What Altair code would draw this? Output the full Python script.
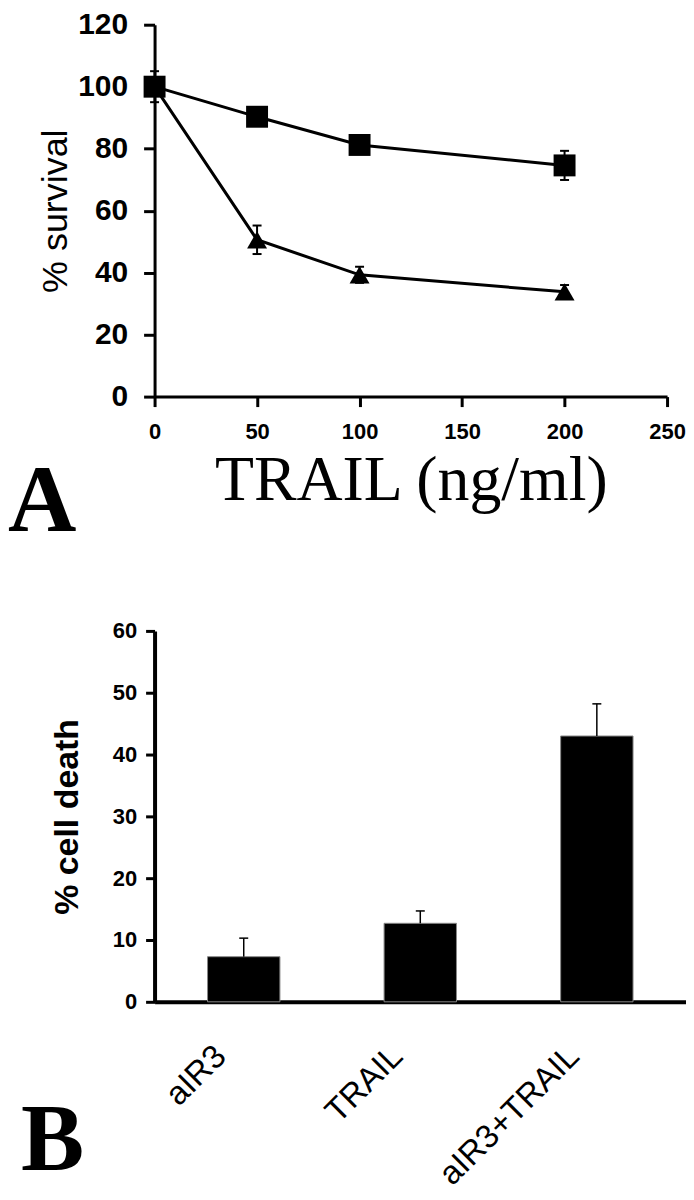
import altair as alt
import pandas as pd

# ---------------- data ----------------
trail_dose = [0, 50, 100, 200]
square_survival = [100.0, 90.3, 81.2, 74.6]
square_err = [2.0, 1.5, 1.5, 4.7]
triangle_survival = [100.0, 50.6, 39.3, 33.8]
triangle_err = [5.0, 4.6, 2.6, 2.2]

x_ticks_a = [0, 50, 100, 150, 200, 250]
y_ticks_a = [0, 20, 40, 60, 80, 100, 120]

groups_b = ["aIR3", "TRAIL", "aIR3+TRAIL"]
cell_death = [7.3, 12.7, 43.0]
cell_death_err = [3.0, 2.0, 5.2]
y_ticks_b = [0, 10, 20, 30, 40, 50, 60]

SANS = "Liberation Sans"
SERIF = "Liberation Serif"

# ---------------- panel A ----------------
dfA = pd.DataFrame({
    "dose": trail_dose * 2,
    "survival": square_survival + triangle_survival,
    "err": square_err + triangle_err,
    "series": ["square"] * 4 + ["triangle"] * 4,
})
dfA["lo"] = dfA["survival"] - dfA["err"]
dfA["hi"] = dfA["survival"] + dfA["err"]

xA = alt.X(
    "dose:Q",
    scale=alt.Scale(domain=[0, 250], nice=False, zero=False),
    axis=alt.Axis(
        values=x_ticks_a, title="TRAIL (ng/ml)", grid=False,
        labelFont=SANS, labelFontSize=22, labelFontWeight="bold", labelColor="black",
        labelPadding=15, labelFlush=False, labelOverlap=False,
        tickSize=10, tickWidth=3, tickColor="black",
        domainWidth=3, domainColor="black",
        titleFont=SERIF, titleFontSize=64, titleFontWeight="normal", titleColor="black",
        titlePadding=6,
    ),
)
yAxisA = alt.Axis(
    values=y_ticks_a, title="% survival", grid=False,
    labelFont=SANS, labelFontSize=30, labelFontWeight="bold", labelColor="black",
    labelPadding=16, labelOverlap=False,
    tickSize=11, tickWidth=3, tickColor="black",
    domainWidth=3, domainColor="black",
    titleFont=SANS, titleFontSize=36, titleFontWeight="normal", titleColor="black",
    titlePadding=3,
)
yScaleA = alt.Scale(domain=[0, 120], nice=False)

def yA(field):
    return alt.Y(f"{field}:Q", scale=yScaleA, axis=yAxisA)

baseA = alt.Chart(dfA)
linesA = baseA.mark_line(color="black", strokeWidth=3).encode(
    x=xA, y=yA("survival"), detail="series:N"
)
rulesA = baseA.mark_rule(color="black", strokeWidth=2).encode(
    x=xA, y=yA("lo"), y2="hi:Q"
)
capLoA = baseA.mark_tick(orient="horizontal", size=9, thickness=2, color="black", opacity=1).encode(
    x=xA, y=yA("lo")
)
capHiA = baseA.mark_tick(orient="horizontal", size=9, thickness=2, color="black", opacity=1).encode(
    x=xA, y=yA("hi")
)
squaresA = baseA.transform_filter(alt.datum.series == "square").mark_point(
    shape="square", filled=True, size=484, color="black", opacity=1
).encode(x=xA, y=yA("survival"))
trianglesA = baseA.transform_filter(alt.datum.series == "triangle").mark_point(
    shape="triangle-up", filled=True, size=400, color="black", opacity=1
).encode(x=xA, y=yA("survival"))
letterA = alt.Chart(pd.DataFrame({"t": ["A"]})).mark_text(
    font=SERIF, fontWeight="bold", fontSize=95, align="left", baseline="alphabetic", color="black"
).encode(text="t:N", x=alt.value(-147), y=alt.value(508))

panelA = alt.layer(linesA, rulesA, capLoA, capHiA, squaresA, trianglesA, letterA).properties(
    width=514, height=373
)

# ---------------- panel B ----------------
dfB = pd.DataFrame({"group": groups_b, "death": cell_death, "err": cell_death_err})
dfB["hi"] = dfB["death"] + dfB["err"]

xB = alt.X(
    "group:N", sort=groups_b,
    scale=alt.Scale(paddingInner=0.59, paddingOuter=0.3),
    axis=alt.Axis(
        title=None, ticks=False, grid=False,
        labelAngle=-45, labelAlign="right", labelBaseline="middle",
        labelFont=SANS, labelFontSize=33, labelFontWeight="normal", labelColor="black",
        labelPadding=49, labelOffset=-23, labelLimit=0,
        domainWidth=4, domainColor="black",
    ),
)
yAxisB = alt.Axis(
    values=y_ticks_b, title="% cell death", grid=False,
    labelFont=SANS, labelFontSize=22, labelFontWeight="bold", labelColor="black",
    labelPadding=9,
    tickSize=9, tickWidth=3, tickColor="black",
    domainWidth=4, domainColor="black",
    titleFont=SANS, titleFontSize=34, titleFontWeight="bold", titleColor="black",
    titlePadding=28,
)
yScaleB = alt.Scale(domain=[0, 60], nice=False)

baseB = alt.Chart(dfB)
barsB = baseB.mark_bar(color="black", stroke="#888888", strokeWidth=1).encode(
    x=xB, y=alt.Y("death:Q", scale=yScaleB, axis=yAxisB)
)
errB = baseB.mark_rule(color="black", strokeWidth=1.5).encode(
    x=xB, y=alt.Y("death:Q", scale=yScaleB, axis=yAxisB), y2="hi:Q"
)
capB = baseB.mark_tick(orient="horizontal", size=9, thickness=1.5, color="black", opacity=1).encode(
    x=xB, y=alt.Y("hi:Q", scale=yScaleB, axis=yAxisB)
)
letterB = alt.Chart(pd.DataFrame({"t": ["B"]})).mark_text(
    font=SERIF, fontWeight="bold", fontSize=95, align="left", baseline="alphabetic", color="black"
).encode(text="t:N", x=alt.value(-134), y=alt.value(541))

panelB = alt.layer(barsB, errB, capB, letterB).properties(width=533, height=372)

chart = alt.vconcat(panelA, panelB, spacing=70).configure(
    padding=0, background="white"
).configure_view(stroke=None)

chart.save("out.html", embed_options={"renderer": "svg", "actions": False})
